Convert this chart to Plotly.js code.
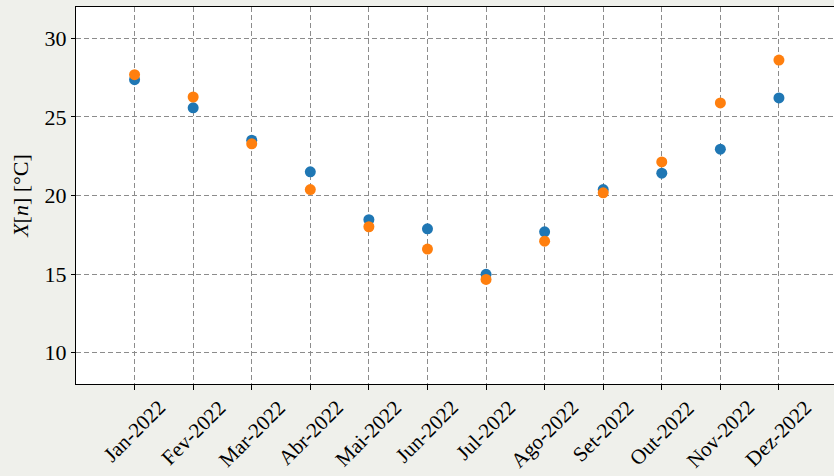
<!DOCTYPE html>
<html>
<head>
<meta charset="utf-8">
<script src="https://cdn.plot.ly/plotly-3.0.1.min.js"></script>
<style>html,body{margin:0;padding:0;background:#eff0eb;}#chart{width:834px;height:476px;}</style>
</head>
<body>
<div id="chart"></div>
<script>
const months = ["Jan-2022","Fev-2022","Mar-2022","Abr-2022","Mai-2022","Jun-2022","Jul-2022","Ago-2022","Set-2022","Out-2022","Nov-2022","Dez-2022"];
const seriesBlue = [27.37, 25.58, 23.52, 21.51, 18.46, 17.88, 14.98, 17.69, 20.38, 21.42, 22.95, 26.21];
const seriesOrange = [27.69, 26.27, 23.29, 20.38, 18.01, 16.59, 14.66, 17.09, 20.17, 22.14, 25.89, 28.62];
const yTicks = [10, 15, 20, 25, 30];

const fontFam = "Liberation Serif";

const traces = [
  {x: months, y: seriesBlue, type: 'scatter', mode: 'markers',
   marker: {color: '#1f77b4', size: 11, line: {width: 0}}, showlegend: false, cliponaxis: false},
  {x: months, y: seriesOrange, type: 'scatter', mode: 'markers',
   marker: {color: '#ff7f0e', size: 11, line: {width: 0}}, showlegend: false, cliponaxis: false}
];

const annotations = months.map(m => ({
  x: m, xref: 'x', y: 0, yref: 'paper', yshift: -10,
  xanchor: 'center', yanchor: 'top', textangle: -45, showarrow: false, borderpad: 0,
  text: m, font: {family: fontFam, size: 21, color: '#000'}
}));

const layout = {
  width: 834, height: 476,
  paper_bgcolor: '#eff0eb', plot_bgcolor: '#ffffff',
  margin: {l: 76, r: 0, t: 7, b: 92, pad: 0},
  font: {family: fontFam, size: 20, color: '#000'},
  xaxis: {
    type: 'category', range: [-1, 11.94], autorange: false,
    showline: true, linecolor: '#000', linewidth: 1.2, mirror: true,
    showgrid: true, gridcolor: '#8c8c8c', griddash: '5px,3px', gridwidth: 1,
    ticks: 'outside', ticklen: 5, tickcolor: '#000', tickwidth: 1,
    showticklabels: false, zeroline: false
  },
  yaxis: {
    range: [8, 32], autorange: false, tickvals: yTicks,
    showline: true, linecolor: '#000', linewidth: 1.2, mirror: false,
    showgrid: true, gridcolor: '#8c8c8c', griddash: '5px,3px', gridwidth: 1,
    ticks: 'outside', ticklen: 4, tickcolor: '#000', tickwidth: 1,
    tickfont: {family: fontFam, size: 22, color: '#000'},
    zeroline: false,
    title: {text: '<i>X</i>[<i>n</i>] [°C]', font: {family: fontFam, size: 22, color: '#000'}, standoff: 9}
  },
  annotations: annotations
};

Plotly.newPlot('chart', traces, layout, {displayModeBar: false, staticPlot: true});
</script>
</body>
</html>
